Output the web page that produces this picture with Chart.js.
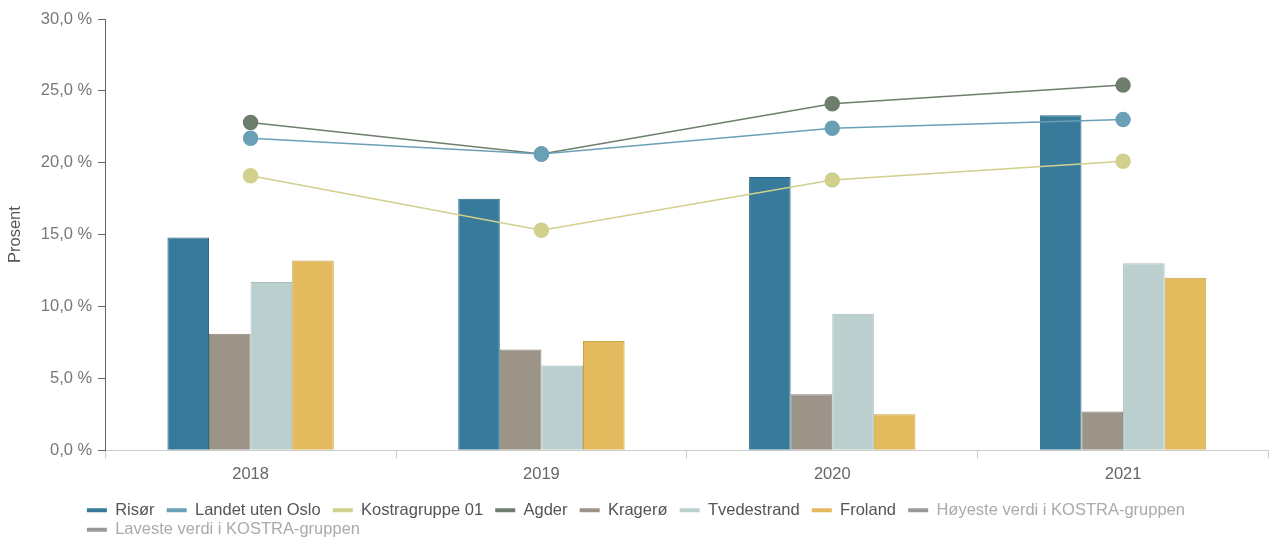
<!DOCTYPE html>
<html>
<head>
<meta charset="utf-8">
<script src="https://cdn.jsdelivr.net/npm/chart.js@4"></script>
<style>
  html, body { margin: 0; padding: 0; background: #fff; }
  #wrap { width: 1277px; height: 539px; }
</style>
</head>
<body>
<div id="wrap"><canvas id="myChart"></canvas></div>
<script>
const ctx = document.getElementById('myChart').getContext('2d');

// Data (percent)
const years = ['2018', '2019', '2020', '2021'];
const risor = [14.8, 17.5, 19.0, 23.3];
const landetUtenOslo = [21.7, 20.6, 22.4, 23.0];
const kostragruppe01 = [19.1, 15.3, 18.8, 20.1];
const agder = [22.8, 20.6, 24.1, 25.4];
const kragero = [8.1, 7.0, 3.9, 2.7];
const tvedestrand = [11.7, 5.9, 9.5, 13.0];
const froland = [13.2, 7.6, 2.5, 12.0];
const yTicks = [0, 5, 10, 15, 20, 25, 30];

const fontFamily = '"Liberation Sans", Arial, sans-serif';
const fontSize = 16.5;

const lineSet = (label, values, color) => ({
    type: 'line',
    label: label,
    data: values,
    borderColor: color,
    backgroundColor: color,
    pointBackgroundColor: color,
    pointBorderColor: color,
    borderWidth: 1.5,
    pointRadius: 7,
    pointHoverRadius: 7,
    order: 0
});

const barSet = (label, values, fill, border) => ({
    type: 'bar',
    label: label,
    data: values,
    backgroundColor: fill,
    borderColor: border,
    borderWidth: 1,
    categoryPercentage: 0.572,
    barPercentage: 1,
    order: 1
});

const data = {
    labels: years,
    datasets: [
        barSet('Risør', risor, '#377a99', '#2e6b87'),
        lineSet('Landet uten Oslo', landetUtenOslo, '#6aa0b6'),
        lineSet('Kostragruppe 01', kostragruppe01, '#d1d08c'),
        lineSet('Agder', agder, '#6e7e6c'),
        barSet('Kragerø', kragero, '#9c9489', '#8a8378'),
        barSet('Tvedestrand', tvedestrand, '#bccfcf', '#a9bdbd'),
        barSet('Froland', froland, '#e3bb5e', '#c9a248'),
        { type: 'line', label: 'Høyeste verdi i KOSTRA-gruppen', data: [], hidden: true,
          borderColor: '#999', backgroundColor: '#999' },
        { type: 'line', label: 'Laveste verdi i KOSTRA-gruppen', data: [], hidden: true,
          borderColor: '#999', backgroundColor: '#999' }
    ]
};

// keep wrapped legend rows left-aligned with the first (centered) row,
// and nudge the legend a little lower
const legendRows = {
    id: 'legendRows',
    afterUpdate: (chart) => {
        const lg = chart.legend;
        if (!lg) return;
        if (lg.lineWidths && lg.lineWidths.length > 1) {
            const w = lg.lineWidths[0];
            lg.lineWidths = lg.lineWidths.map(() => w);
        }
        lg.top += 9;
        lg.bottom += 9;
    }
};

const config = {
    type: 'bar',
    data: data,
    plugins: [legendRows],
    options: {
        responsive: true,
        maintainAspectRatio: false,
        animation: false,
        layout: { padding: { top: 19, right: 0, left: 4, bottom: 0 } },
        plugins: {
            tooltip: { enabled: false },
            legend: {
                position: 'bottom',
                align: 'center',
                labels: {
                    boxWidth: 20,
                    boxHeight: 4,
                    padding: 3,
                    color: '#555',
                    font: { family: fontFamily, size: fontSize },
                    generateLabels: (chart) => chart.data.datasets.map((ds, i) => ({
                        text: ds.label + '  ',
                        datasetIndex: i,
                        fillStyle: ds.type === 'bar' ? ds.backgroundColor : ds.borderColor,
                        strokeStyle: ds.type === 'bar' ? ds.backgroundColor : ds.borderColor,
                        lineWidth: 0,
                        hidden: false,
                        fontColor: ds.hidden ? '#aaa' : '#555'
                    }))
                }
            }
        },
        scales: {
            x: {
                offset: true,
                border: { color: '#ccc', width: 1 },
                grid: {
                    offset: true,
                    drawOnChartArea: false,
                    drawTicks: true,
                    tickLength: 8,
                    color: '#ccc'
                },
                ticks: {
                    color: '#666',
                    padding: 6,
                    font: { family: fontFamily, size: fontSize }
                }
            },
            y: {
                min: 0,
                max: 30,
                afterBuildTicks: (axis) => {
                    axis.ticks = yTicks.map(v => ({ value: v }));
                },
                border: { color: '#666', width: 1 },
                grid: {
                    drawOnChartArea: false,
                    drawTicks: true,
                    tickLength: 7,
                    color: '#666'
                },
                ticks: {
                    color: '#777',
                    padding: 6,
                    font: { family: fontFamily, size: fontSize },
                    callback: (value) => value.toFixed(1).replace('.', ',') + ' %'
                },
                title: {
                    display: true,
                    text: 'Prosent',
                    color: '#555',
                    padding: { top: 2, bottom: 9 },
                    font: { family: fontFamily, size: fontSize }
                }
            }
        }
    }
};

let myChart = new Chart(ctx, config);
</script>
</body>
</html>
